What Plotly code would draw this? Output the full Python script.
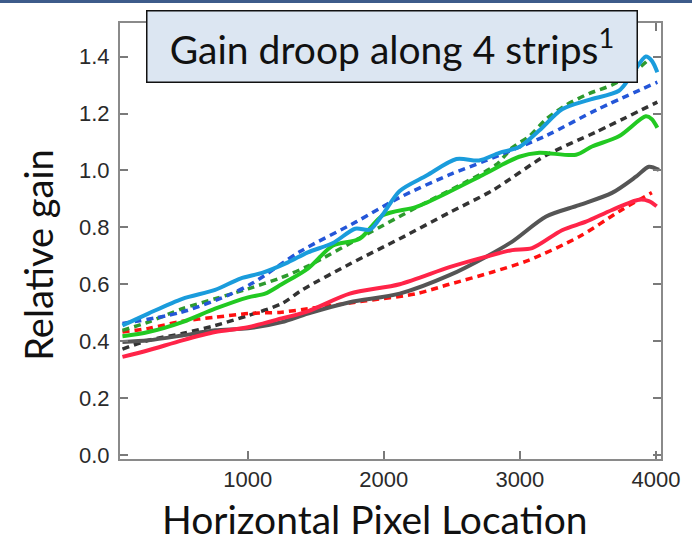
import plotly.graph_objects as go

# ---- data ----
blue_x = [80, 270, 520, 761, 946, 1106, 1296, 1442, 1627, 1790, 1900, 1992, 2117, 2315, 2534, 2700, 2850, 2995, 3142, 3310, 3508, 3728, 3823, 3925, 3970, 4010]
blue_y = [0.455, 0.497, 0.549, 0.580, 0.620, 0.640, 0.677, 0.712, 0.745, 0.795, 0.792, 0.845, 0.928, 0.982, 1.040, 1.035, 1.062, 1.082, 1.140, 1.215, 1.248, 1.280, 1.336, 1.400, 1.385, 1.345]

blue_fit_x = [80, 500, 850, 1040, 1385, 1800, 2117, 2483, 2753, 3193, 3560, 4010]
blue_fit_y = [0.462, 0.500, 0.560, 0.605, 0.715, 0.820, 0.905, 0.985, 1.035, 1.122, 1.212, 1.310]

green_x = [80, 270, 520, 761, 1003, 1128, 1250, 1442, 1627, 1823, 1992, 2240, 2482, 2724, 2995, 3142, 3413, 3530, 3728, 3925, 3970, 4010]
green_y = [0.417, 0.432, 0.467, 0.514, 0.554, 0.567, 0.600, 0.655, 0.736, 0.760, 0.842, 0.872, 0.925, 0.983, 1.048, 1.062, 1.055, 1.084, 1.120, 1.190, 1.180, 1.150]

green_fit_x = [80, 270, 520, 761, 1003, 1250, 1442, 1872, 2240, 2606, 2826, 2944, 3068, 3193, 3340, 3508, 3677, 3823, 3948]
green_fit_y = [0.438, 0.467, 0.514, 0.549, 0.584, 0.624, 0.664, 0.775, 0.870, 0.960, 1.020, 1.080, 1.120, 1.180, 1.230, 1.270, 1.300, 1.340, 1.390]

gray_x = [80, 270, 520, 761, 1003, 1250, 1442, 1750, 2117, 2483, 2753, 2944, 3193, 3435, 3677, 3853, 3948, 4022]
gray_y = [0.397, 0.403, 0.420, 0.438, 0.445, 0.467, 0.497, 0.537, 0.567, 0.632, 0.697, 0.750, 0.838, 0.878, 0.921, 0.978, 1.013, 1.002]

gray_fit_x = [80, 270, 520, 761, 1003, 1250, 1400, 1750, 2117, 2483, 2800, 3193, 3560, 4010]
gray_fit_y = [0.372, 0.403, 0.427, 0.455, 0.490, 0.532, 0.580, 0.671, 0.760, 0.852, 0.930, 1.053, 1.135, 1.240]

red_x = [80, 270, 520, 761, 1003, 1250, 1442, 1750, 2117, 2483, 2753, 2944, 3090, 3310, 3486, 3677, 3875, 3948, 4005]
red_y = [0.345, 0.368, 0.403, 0.432, 0.449, 0.480, 0.505, 0.567, 0.600, 0.660, 0.697, 0.720, 0.727, 0.790, 0.820, 0.861, 0.897, 0.892, 0.874]

red_fit_x = [80, 270, 520, 761, 1003, 1250, 1442, 1872, 2240, 2483, 2800, 3068, 3435, 3750, 3970]
red_fit_y = [0.432, 0.445, 0.470, 0.484, 0.497, 0.502, 0.514, 0.542, 0.567, 0.600, 0.643, 0.685, 0.767, 0.862, 0.922]

x_ticks = [1000, 2000, 3000, 4000]
y_ticks = [0.0, 0.2, 0.4, 0.6, 0.8, 1.0, 1.2, 1.4]

title_text = "Gain droop along 4 strips<sup>1</sup>"
x_title = "Horizontal Pixel Location"
y_title = "Relative gain"

DASH = "7px,5px"
TEXT_FONT = "Lato, Open Sans, sans-serif"

fig = go.Figure()

def add(x, y, color, dashed, width):
    fig.add_trace(go.Scatter(
        x=x, y=y, mode="lines",
        line=dict(color=color, width=width, dash=DASH if dashed else "solid",
                  shape="spline", smoothing=0.8),
        showlegend=False, hoverinfo="skip"))

# draw order: dashed fits, then measured curves
add(gray_fit_x, gray_fit_y, "#333333", True, 3.5)
add(red_fit_x, red_fit_y, "#ff1010", True, 3.5)
add(green_fit_x, green_fit_y, "#2e9a2e", True, 3.5)
add(blue_fit_x, blue_fit_y, "#2456d8", True, 3.5)
add(gray_x, gray_y, "#555555", False, 4)
add(red_x, red_y, "#ff2448", False, 4)
add(green_x, green_y, "#22c922", False, 4)
add(blue_x, blue_y, "#1a9cdc", False, 4)

axis_common = dict(
    showgrid=False, zeroline=False, showline=True, linecolor="#8a8a8a", linewidth=2,
    mirror="ticks", ticks="inside", ticklen=8, tickwidth=1.5, tickcolor="#7a7a7a",
    tickfont=dict(family="Liberation Sans, Arial, sans-serif", size=22, color="#2a2a2a"),
)

fig.update_layout(
    width=692, height=543,
    margin=dict(l=120, r=31, t=23, b=84),
    paper_bgcolor="white", plot_bgcolor="white",
    xaxis=dict(range=[62, 4037], tickvals=x_ticks, **axis_common),
    yaxis=dict(range=[-0.014, 1.518], tickvals=y_ticks, tickformat=".1f",
               ticklabelstandoff=4, **axis_common),
    annotations=[
        dict(text=title_text, xref="paper", yref="paper", x=0.502, y=0.947,
             xanchor="center", yanchor="middle", showarrow=False,
             font=dict(family=TEXT_FONT, size=39, color="#111111"),
             bgcolor="#dce6f2", bordercolor="#111111", borderwidth=1.5, borderpad=0,
             width=489, height=70, align="center", valign="middle"),
        dict(text=y_title, xref="paper", yref="paper", x=-0.152, y=0.468,
             xanchor="center", yanchor="middle", showarrow=False, textangle=-90,
             font=dict(family=TEXT_FONT, size=38, color="#111111")),
        dict(text=x_title, xref="paper", yref="paper", x=0.471, y=-0.138,
             xanchor="center", yanchor="middle", showarrow=False,
             font=dict(family=TEXT_FONT, size=39, color="#111111")),
    ],
    shapes=[
        dict(type="rect", xref="paper", yref="paper", x0=-0.25, x1=1.1,
             y0=1.0459, y1=1.06, fillcolor="#3d5b8a", line=dict(width=0), layer="above"),
    ],
)

fig.write_html("out.html", config={"displayModeBar": False},
               post_script="document.body.style.margin='0px';")
